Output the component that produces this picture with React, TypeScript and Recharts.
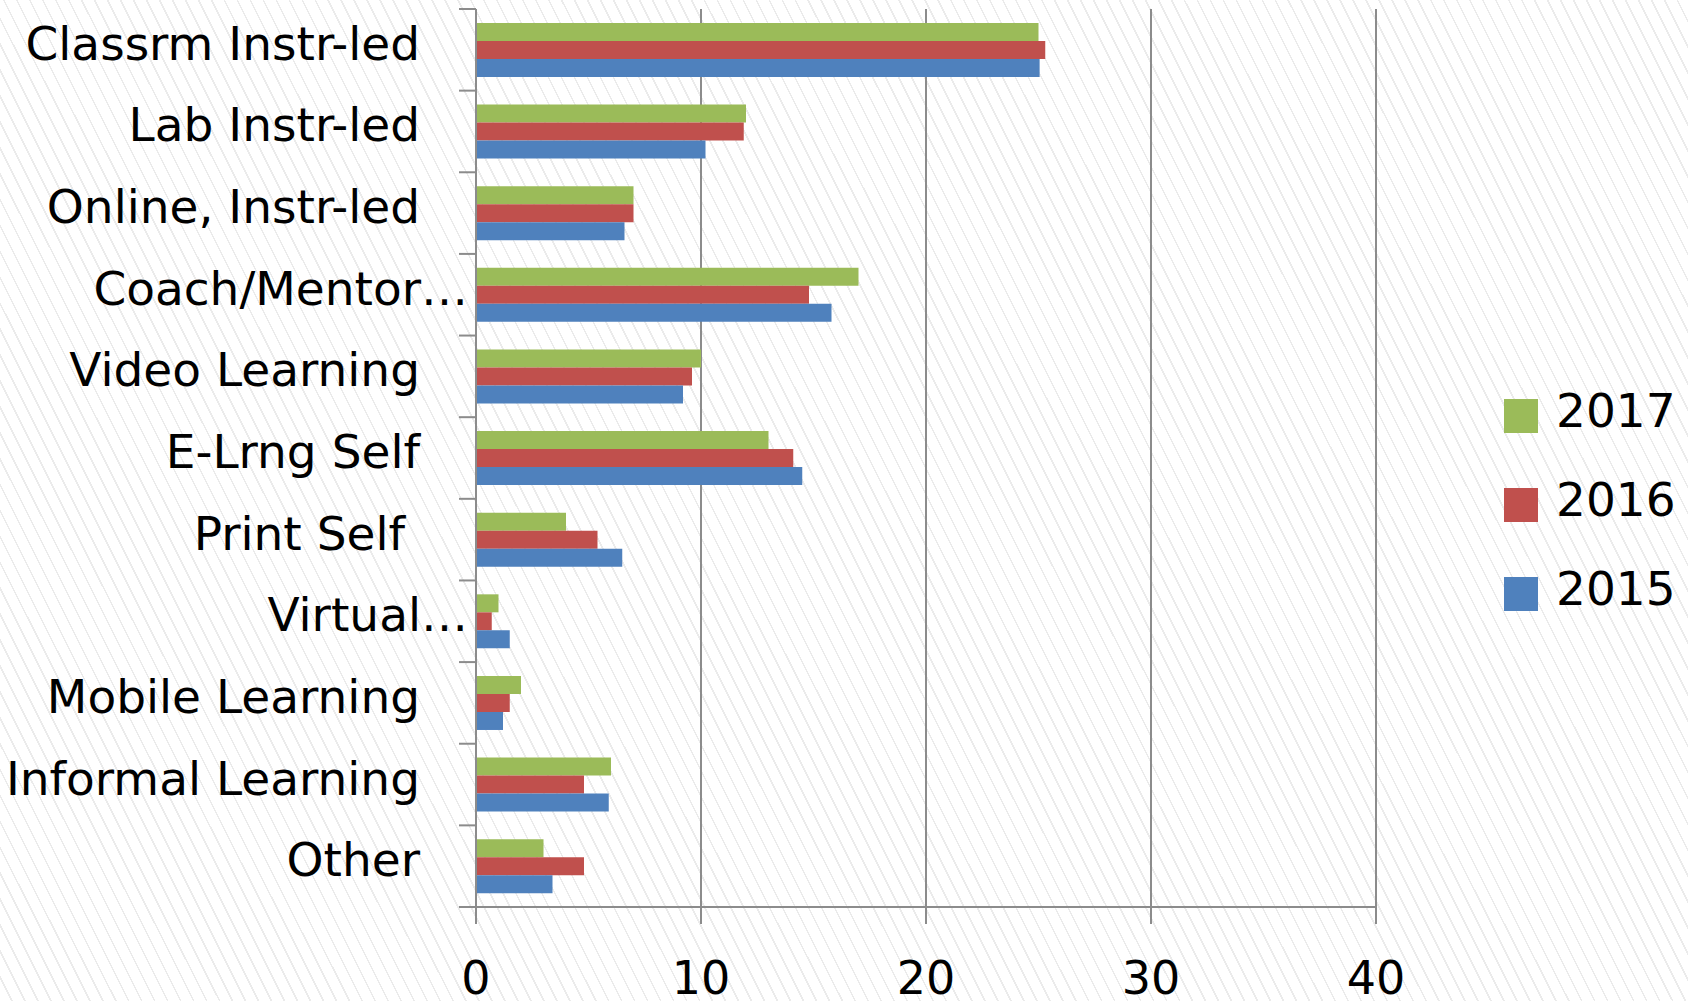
import { BarChart, Bar, XAxis, YAxis, CartesianGrid, Legend } from 'recharts';

const categories = [
  'Classrm Instr-led',
  'Lab Instr-led',
  'Online, Instr-led',
  'Coach/Mentor…',
  'Video Learning',
  'E-Lrng Self',
  'Print Self ',
  'Virtual…',
  'Mobile Learning',
  'Informal Learning',
  'Other',
];
const y2017 = [25, 12, 7, 17, 10, 13, 4, 1, 2, 6, 3];
const y2016 = [25.3, 11.9, 7, 14.8, 9.6, 14.1, 5.4, 0.7, 1.5, 4.8, 4.8];
const y2015 = [25.05, 10.2, 6.6, 15.8, 9.2, 14.5, 6.5, 1.5, 1.2, 5.9, 3.4];
const xTicks = [0, 10, 20, 30, 40];

const series = [
  { key: 'y2017', name: '2017', color: '#9BBB59' },
  { key: 'y2016', name: '2016', color: '#C0504D' },
  { key: 'y2015', name: '2015', color: '#4F81BD' },
];

const data = categories.map((c, i) => ({
  cat: c,
  y2017: y2017[i],
  y2016: y2016[i],
  y2015: y2015[i],
}));

const AXIS = '#8c8c8c';
const FONT = '"DejaVu Sans", sans-serif';

// category ticks sit on band edges, label drawn left of them
function CatTick(props: any) {
  const { x, y, payload, index, visibleTicksCount } = props;
  const half = payload.offset ?? 0;
  const label: string = String(payload.value);
  const trunc = label.endsWith('…');
  return (
    <g>
      <line x1={x - 17} x2={x} y1={y - half} y2={y - half} stroke={AXIS} strokeWidth={2} />
      {index === visibleTicksCount - 1 && (
        <line x1={x - 17} x2={x} y1={y + half} y2={y + half} stroke={AXIS} strokeWidth={2} />
      )}
      <text
        x={trunc ? x - 8 : x - 56}
        y={y + 10}
        textAnchor="end"
        fontFamily={FONT}
        fontSize={47}
        fill="#000"
        style={{ whiteSpace: 'pre' }}
      >
        {label}
      </text>
    </g>
  );
}

function NumTick(props: any) {
  const { x, y, payload } = props;
  return (
    <text x={x} y={y + 70} textAnchor="middle" fontFamily={FONT} fontSize={46} fill="#000">
      {payload.value}
    </text>
  );
}

function LegendBox() {
  return (
    <svg width={184} height={280} style={{ display: 'block' }}>
      {series.map((s, i) => (
        <g key={s.key}>
          <rect x={0} y={19 + i * 89} width={34} height={34} fill={s.color} />
          <text x={52} y={47 + i * 89} fontFamily={FONT} fontSize={47} fill="#000">
            {s.name}
          </text>
        </g>
      ))}
    </svg>
  );
}

export default function App() {
  return (
    <div
      style={{
        position: 'absolute',
        left: 0,
        top: 0,
        width: 1688,
        height: 1001,
        background:
          'repeating-linear-gradient(63.4deg, #ffffff 0px, #ffffff 10px, #ebebeb 10px, #ebebeb 11.6px)',
      }}
    >
      <BarChart
        width={1688}
        height={1001}
        data={data}
        layout="vertical"
        margin={{ top: 9, right: 312, left: 0, bottom: 0 }}
        barCategoryGap="17%"
        barGap={0}
      >
        <CartesianGrid horizontal={false} stroke={AXIS} strokeWidth={2} />
        <XAxis
          type="number"
          domain={[0, 40]}
          ticks={xTicks}
          height={94}
          tickSize={17}
          tickMargin={0}
          axisLine={{ stroke: AXIS, strokeWidth: 2 }}
          tickLine={{ stroke: AXIS, strokeWidth: 2 }}
          tick={<NumTick />}
        />
        <YAxis
          type="category"
          dataKey="cat"
          width={476}
          tickSize={0}
          tickMargin={0}
          tickLine={false}
          axisLine={{ stroke: AXIS, strokeWidth: 2 }}
          tick={<CatTick />}
          interval={0}
        />
        <Legend
          layout="vertical"
          align="center"
          verticalAlign="middle"
          wrapperStyle={{ position: 'absolute', left: 1504, top: 380, width: 184 }}
          content={<LegendBox />}
        />
        {series.map((s) => (
          <Bar
            key={s.key}
            dataKey={s.key}
            name={s.name}
            fill={s.color}
            isAnimationActive={false}
          />
        ))}
      </BarChart>
    </div>
  );
}
